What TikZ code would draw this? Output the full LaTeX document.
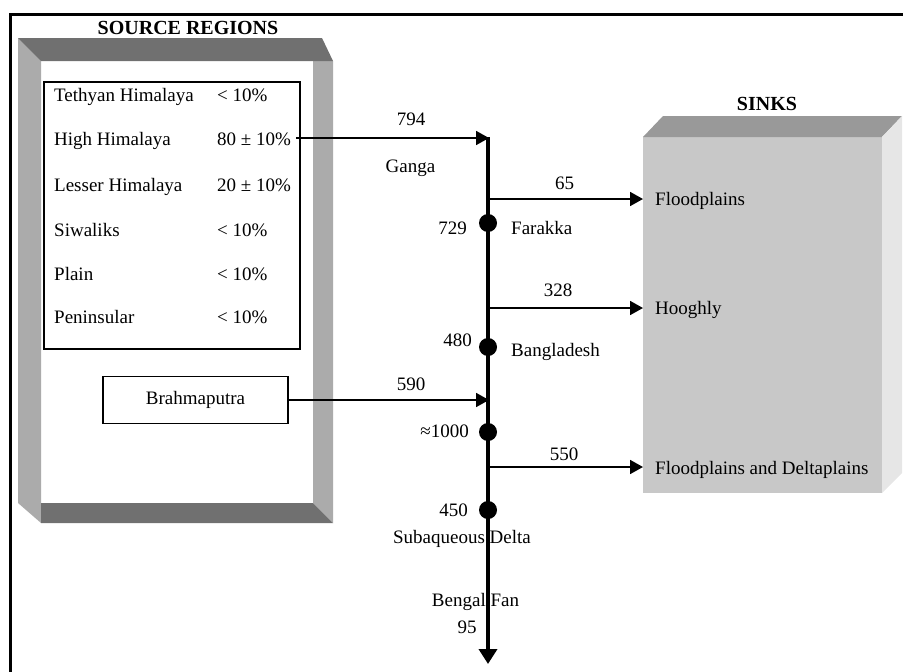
\documentclass[tikz,border=0pt]{standalone}
\usepackage{fontspec}
\setmainfont{Liberation Serif}
\usetikzlibrary{arrows.meta}
\definecolor{bevdark}{HTML}{707070}
\definecolor{bevlight}{HTML}{ABABAB}
\definecolor{sinkfront}{HTML}{C8C8C8}
\definecolor{sinktop}{HTML}{999999}
\definecolor{sinkside}{HTML}{E6E6E6}
\begin{document}
\begin{tikzpicture}[x=1pt,y=-1pt,
  every node/.style={font=\fontsize{19}{22}\selectfont, inner sep=0pt},
  lbl/.style={anchor=base},
  lblw/.style={anchor=base west},
  lble/.style={anchor=base east},
  title/.style={anchor=base, font=\fontsize{20}{23}\selectfont\bfseries},
  flow/.style={line width=1.8pt, -{Triangle[length=13pt,width=14pt]}},
  trunk/.style={line width=3.6pt, -{Triangle[length=15pt,width=18pt]}},
  dot/.style={circle, fill=black, minimum size=18pt},
  box/.style={draw, line width=1.5pt},
  frameline/.style={line width=2.5pt}]
\useasboundingbox (0,0) rectangle (903,672);
% outer frame (clipped at right and bottom)
\coordinate (fr1) at (903,14.5);
\coordinate (fr2) at (10.5,14.5);
\coordinate (fr3) at (10.5,672);
\draw[frameline] (fr1) -- (fr2) -- (fr3);

% source regions bevel frame
\fill[bevlight] (18,38) -- (41,61) -- (41,523) -- (18,503) -- cycle;
\fill[bevlight] (313,61) -- (333,61) -- (333,523) -- (313,503) -- cycle;
\fill[bevdark] (18,38) -- (322,38) -- (333,61) -- (41,61) -- cycle;
\fill[bevdark] (41,503) -- (313,503) -- (333,523) -- (41,523) -- cycle;

% sinks 3D box
\fill[sinkfront] (643,137) rectangle (882,493);
\fill[sinktop] (643,137) -- (663,116) -- (902,116) -- (882,137) -- cycle;
\fill[sinkside] (882,137) -- (902,116) -- (902,473) -- (882,493) -- cycle;

% titles
\node[title] (srctitle) at (188,34.3) {SOURCE REGIONS};
\node[title] (sinktitle) at (767,110.7) {SINKS};

% source table
\node[box, minimum width=256pt, minimum height=267pt] (table) at (172,215.5) {};
\node[lblw] (r1) at (54,101) {Tethyan Himalaya};
\node[lblw] (v1) at (217,101) {< 10\%};
\node[lblw] (r2) at (54,145) {High Himalaya};
\node[lblw] (v2) at (217,145) {80 ± 10\%};
\node[lblw] (r3) at (54,191.5) {Lesser Himalaya};
\node[lblw] (v3) at (217,191.5) {20 ± 10\%};
\node[lblw] (r4) at (54,236.5) {Siwaliks};
\node[lblw] (v4) at (217,236.5) {< 10\%};
\node[lblw] (r5) at (54,280) {Plain};
\node[lblw] (v5) at (217,280) {< 10\%};
\node[lblw] (r6) at (54,323.5) {Peninsular};
\node[lblw] (v6) at (217,323.5) {< 10\%};

\node[box, line width=1.2pt, minimum width=185pt, minimum height=47pt] (brahma) at (195.5,400) {Brahmaputra};

% trunk
\coordinate (ttop) at (488,137);
\coordinate (tbot) at (488,664);
\draw[trunk] (ttop) -- (tbot);

% inputs
\coordinate (hhstart) at (296,138);
\coordinate (ganga) at (489,138);
\draw[flow] (hhstart) -- (ganga);
\coordinate (bjoin) at (489,400);
\draw[flow] (brahma.east) -- (bjoin);

% outputs
\coordinate (o1) at (488,199);
\coordinate (s1) at (643,199);
\draw[flow] (o1) -- (s1);
\coordinate (o2) at (488,308);
\coordinate (s2) at (643,308);
\draw[flow] (o2) -- (s2);
\coordinate (o3) at (488,467);
\coordinate (s3) at (643,467);
\draw[flow] (o3) -- (s3);

% dots
\node[dot] (farakka) at (488,223) {};
\node[dot] (bangla) at (488,347) {};
\node[dot] (conf) at (488,432) {};
\node[dot] (delta) at (488,510) {};

% labels
\node[lbl] (l794) at (411,125.7) {794};
\node[lbl] (lganga) at (410.5,172.7) {Ganga};
\node[lbl] (l65) at (564.5,189.3) {65};
\node[lbl] (l729) at (452.5,234) {729};
\node[lblw] (lfar) at (511,234) {Farakka};
\node[lbl] (l328) at (558,296.7) {328};
\node[lbl] (l480) at (457.5,346.7) {480};
\node[lblw] (lbang) at (511,356.7) {Bangladesh};
\node[lbl] (l590) at (411,390) {590};
\node[lble] (l1000) at (469,437) {≈1000};
\node[lbl] (l550) at (564,460) {550};
\node[lbl] (l450) at (453.5,516) {450};
\node[lbl] (lsub) at (462,543) {Subaqueous Delta};
\node[lbl] (lfan) at (475.5,606.7) {Bengal Fan};
\node[lbl] (l95) at (467,633) {95};

\node[lblw] (k1) at (655,205) {Floodplains};
\node[lblw] (k2) at (655,314.5) {Hooghly};
\node[lblw] (k3) at (655,474) {Floodplains and Deltaplains};
\end{tikzpicture}
\end{document}
